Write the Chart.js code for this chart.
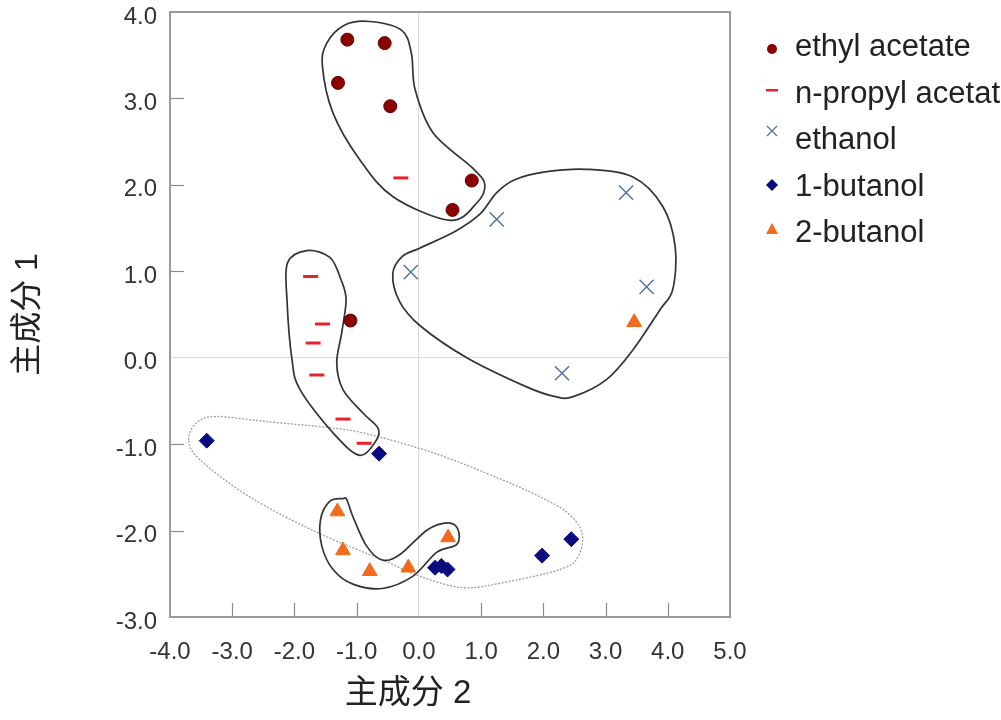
<!DOCTYPE html>
<html>
<head>
<meta charset="utf-8">
<script src="https://cdn.jsdelivr.net/npm/chart.js@4.4.1/dist/chart.umd.min.js"></script>
<style>
  html, body { margin: 0; padding: 0; background: #fff; overflow: hidden; }
  #wrap { width: 1001px; height: 720px; }
</style>
</head>
<body>
<div id="wrap"><canvas id="pca"></canvas></div>
<script>
// PCA score plot (主成分 2 vs 主成分 1), five solvents

const xTicks = [-4, -3, -2, -1, 0, 1, 2, 3, 4, 5];
const yTicks = [-3, -2, -1, 0, 1, 2, 3, 4];
const seriesNames = ['ethyl acetate', 'n-propyl acetate', 'ethanol', '1-butanol', '2-butanol'];

// [PC2, PC1] pairs
const ethylAcetate = [[-1.15, 3.68], [-0.55, 3.64], [-1.30, 3.18], [-0.46, 2.91], [0.85, 2.05], [0.54, 1.71], [-1.10, 0.43]];
const nPropylAcetate = [[-0.29, 2.08], [-1.74, 0.94], [-1.55, 0.39], [-1.70, 0.17], [-1.64, -0.20], [-1.22, -0.71], [-0.88, -0.99]];
const ethanol = [[-0.13, 0.99], [1.25, 1.60], [3.33, 1.91], [3.66, 0.82], [2.30, -0.18]];
const butanol1 = [[-3.41, -0.96], [-0.64, -1.11], [0.26, -2.43], [0.36, -2.41], [0.46, -2.45], [1.98, -2.29], [2.45, -2.10]];
const butanol2 = [[-1.31, -1.78], [-1.22, -2.23], [-0.79, -2.47], [-0.17, -2.43], [0.47, -2.08], [3.46, 0.41]];

// hand-drawn group outlines (data units)
const outlineEthylAcetate = [[-0.79, 3.89], [-0.28, 3.79], [-0.12, 3.52], [-0.06, 3.10], [0.23, 2.60], [0.87, 2.19], [1.06, 2.00],
  [0.93, 1.79], [0.50, 1.59], [-0.41, 1.86], [-0.95, 2.29], [-1.38, 2.83], [-1.55, 3.37], [-1.48, 3.64], [-1.19, 3.85]];
const outlineEthanol = [[-0.42, 0.97], [-0.27, 1.17], [0.02, 1.27], [0.58, 1.46], [0.98, 1.66], [1.25, 1.91], [1.54, 2.06],
  [2.03, 2.15], [2.70, 2.18], [3.44, 2.09], [3.92, 1.75], [4.12, 1.28], [4.08, 0.79], [3.87, 0.55], [3.44, 0.09],
  [3.02, -0.25], [2.48, -0.45], [2.19, -0.45], [1.74, -0.34], [0.77, 0.00], [0.02, 0.37], [-0.31, 0.65]];
const outlinePropyl = [[-1.80, 1.24], [-1.43, 1.16], [-1.25, 0.90], [-1.17, 0.67], [-1.24, 0.29], [-1.32, -0.06], [-1.22, -0.37],
  [-0.90, -0.64], [-0.66, -0.81], [-0.68, -0.95], [-0.95, -1.13], [-1.38, -0.87], [-1.91, -0.37], [-2.04, -0.02],
  [-2.12, 0.67], [-2.11, 1.10]];
const outlineButanol2 = [[-1.22, -1.63], [-1.43, -1.66], [-1.58, -1.87], [-1.56, -2.18], [-1.38, -2.45], [-1.06, -2.62],
  [-0.59, -2.67], [-0.10, -2.53], [0.29, -2.25], [0.61, -2.16], [0.63, -1.99], [0.47, -1.91], [0.14, -1.99],
  [-0.31, -2.28], [-0.59, -2.34], [-0.84, -2.18], [-1.06, -1.84], [-1.16, -1.64]];
const outlineButanol1 = [[-3.70, -0.95], [-3.57, -0.75], [-3.25, -0.68], [-2.44, -0.74], [-1.43, -0.81], [-0.84, -0.88],
  [0.23, -1.10], [1.30, -1.40], [1.95, -1.61], [2.38, -1.79], [2.62, -2.02], [2.56, -2.30], [2.27, -2.45],
  [1.30, -2.61], [0.69, -2.66], [0.02, -2.53], [-0.58, -2.34], [-1.64, -2.02], [-2.72, -1.61], [-3.52, -1.18]];

const colors = ['#8b0000', '#e8222c', '#4f6fa3', '#0b0b80', '#f26b1d'];
const FONT = "'Liberation Sans', Arial, 'Noto Sans CJK SC', sans-serif";

const toPts = arr => arr.map(p => ({ x: p[0], y: p[1] }));

// closed catmull-rom through pixel points
function closedCurve(ctx, pts) {
  const n = pts.length;
  ctx.beginPath();
  ctx.moveTo(pts[0][0], pts[0][1]);
  for (let i = 0; i < n; i++) {
    const p0 = pts[(i - 1 + n) % n], p1 = pts[i], p2 = pts[(i + 1) % n], p3 = pts[(i + 2) % n];
    ctx.bezierCurveTo(
      p1[0] + (p2[0] - p0[0]) / 6, p1[1] + (p2[1] - p0[1]) / 6,
      p2[0] - (p3[0] - p1[0]) / 6, p2[1] - (p3[1] - p1[1]) / 6,
      p2[0], p2[1]);
  }
  ctx.closePath();
}

const outlines = {
  id: 'outlines',
  beforeDatasetsDraw(chart) {
    const { ctx, scales: { x, y } } = chart;
    const px = arr => arr.map(p => [x.getPixelForValue(p[0]), y.getPixelForValue(p[1])]);
    ctx.save();
    ctx.strokeStyle = '#a0a0a0';
    ctx.lineWidth = 1.3;
    ctx.setLineDash([2, 1.5]);
    closedCurve(ctx, px(outlineButanol1));
    ctx.stroke();
    ctx.setLineDash([]);
    ctx.strokeStyle = '#333';
    ctx.lineWidth = 1.7;
    [outlineEthylAcetate, outlineEthanol, outlinePropyl, outlineButanol2].forEach(o => {
      closedCurve(ctx, px(o));
      ctx.stroke();
    });
    ctx.restore();
  }
};

// frame, inward ticks, legend, x title
const decorations = {
  id: 'decorations',
  afterDraw(chart) {
    const { ctx, chartArea: a, scales: { x, y } } = chart;
    ctx.save();
    ctx.strokeStyle = '#8a8a8a';
    ctx.lineWidth = 1.2;
    xTicks.forEach(v => {
      if (v === 0 || v === xTicks[0] || v === xTicks[xTicks.length - 1]) return;
      const p = Math.round(x.getPixelForValue(v)) + 0.5;
      ctx.beginPath(); ctx.moveTo(p, a.bottom); ctx.lineTo(p, a.bottom - 14); ctx.stroke();
    });
    yTicks.forEach(v => {
      if (v === 0 || v === yTicks[0] || v === yTicks[yTicks.length - 1]) return;
      const p = Math.round(y.getPixelForValue(v)) + 0.5;
      ctx.beginPath(); ctx.moveTo(a.left, p); ctx.lineTo(a.left + 14, p); ctx.stroke();
    });
    ctx.strokeStyle = '#999';
    ctx.lineWidth = 2;
    ctx.strokeRect(a.left, a.top, a.right - a.left, a.bottom - a.top);

    // legend
    const lx = 772, tx = 795, rows = [47, 94, 140, 187, 233];
    ctx.font = '31px ' + FONT;
    ctx.textBaseline = 'middle';
    seriesNames.forEach((name, i) => {
      const cy = rows[i];
      ctx.fillStyle = colors[i];
      ctx.strokeStyle = colors[i];
      if (i === 0) {
        ctx.beginPath(); ctx.arc(lx, cy + 2, 5, 0, Math.PI * 2); ctx.fill();
      } else if (i === 1) {
        ctx.fillRect(lx - 6, cy - 5, 12, 2.5);
      } else if (i === 2) {
        ctx.lineWidth = 1.2;
        ctx.beginPath();
        ctx.moveTo(lx - 5, cy - 14); ctx.lineTo(lx + 5, cy - 4);
        ctx.moveTo(lx + 5, cy - 14); ctx.lineTo(lx - 5, cy - 4);
        ctx.stroke();
      } else if (i === 3) {
        ctx.beginPath();
        ctx.moveTo(lx, cy - 8); ctx.lineTo(lx + 6, cy - 2); ctx.lineTo(lx, cy + 4); ctx.lineTo(lx - 6, cy - 2);
        ctx.closePath(); ctx.fill();
      } else {
        ctx.beginPath();
        ctx.moveTo(lx, cy - 10); ctx.lineTo(lx + 6, cy + 1); ctx.lineTo(lx - 6, cy + 1);
        ctx.closePath(); ctx.fill();
      }
      ctx.fillStyle = '#222';
      ctx.textAlign = 'left';
      ctx.fillText(name, tx, cy);
    });

    ctx.font = '33px ' + FONT;
    ctx.textAlign = 'center';
    ctx.fillText('主成分 2', 408, 694);
    ctx.restore();
  }
};

const zeroGrid = c => (c.tick && c.tick.value === 0 ? '#dadada' : 'rgba(0,0,0,0)');

new Chart(document.getElementById('pca'), {
  type: 'scatter',
  data: {
    datasets: [
      { label: seriesNames[0], data: toPts(ethylAcetate), pointStyle: 'circle', pointRadius: 6.5,
        backgroundColor: colors[0], borderColor: '#6a0000', borderWidth: 1 },
      { label: seriesNames[1], data: toPts(nPropylAcetate), pointStyle: 'line', pointRadius: 7.5,
        backgroundColor: colors[1], borderColor: colors[1], borderWidth: 3 },
      { label: seriesNames[2], data: toPts(ethanol), pointStyle: 'crossRot', pointRadius: 10,
        backgroundColor: colors[2], borderColor: colors[2], borderWidth: 1.4 },
      { label: seriesNames[3], data: toPts(butanol1), pointStyle: 'rectRot', pointRadius: 7.5,
        backgroundColor: colors[3], borderColor: colors[3], borderWidth: 1 },
      { label: seriesNames[4], data: toPts(butanol2), pointStyle: 'triangle', pointRadius: 8.5,
        backgroundColor: colors[4], borderColor: colors[4], borderWidth: 1 }
    ]
  },
  options: {
    responsive: true,
    maintainAspectRatio: false,
    animation: false,
    layout: { padding: { left: 0, top: 12, right: 271, bottom: 0 } },
    plugins: { legend: { display: false }, tooltip: { enabled: false } },
    scales: {
      x: {
        min: -4, max: 5,
        afterBuildTicks: s => { s.ticks = xTicks.map(v => ({ value: v })); },
        afterFit: s => { s.height = 103; s.paddingLeft = 0; s.paddingRight = 0; },
        grid: { color: zeroGrid, drawTicks: false, lineWidth: 1 },
        border: { display: false },
        ticks: { padding: 21, color: '#333', font: { family: FONT, size: 24 },
          callback: v => v.toFixed(1), maxRotation: 0, autoSkip: false }
      },
      y: {
        min: -3, max: 4,
        afterBuildTicks: s => { s.ticks = yTicks.map(v => ({ value: v })); },
        afterFit: s => { s.width = 170; s.paddingTop = 0; s.paddingBottom = 0; },
        grid: { color: zeroGrid, drawTicks: false, lineWidth: 1 },
        border: { display: false },
        ticks: { padding: 13, labelOffset: 5, color: '#333', font: { family: FONT, size: 24 },
          callback: v => v.toFixed(1), autoSkip: false },
        title: { display: true, text: '主成分 1', color: '#222', padding: { top: 9, bottom: 0 },
          font: { family: FONT, size: 32 } }
      }
    }
  },
  plugins: [outlines, decorations]
});
</script>
</body>
</html>
